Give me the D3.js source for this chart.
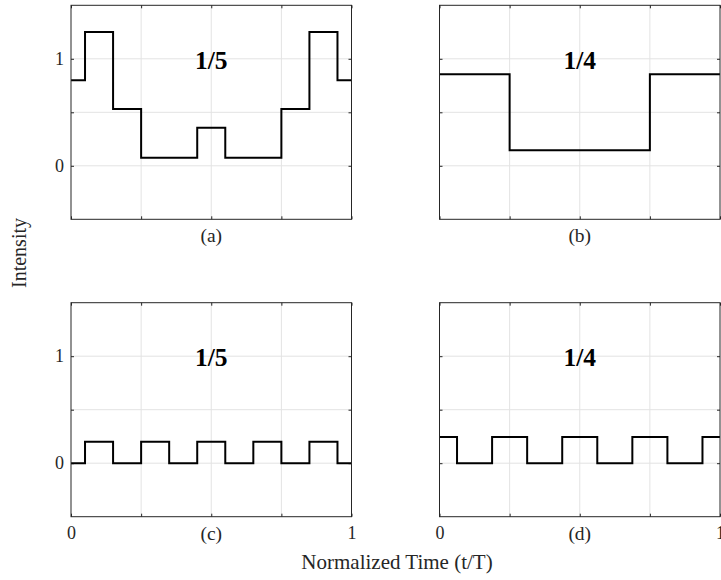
<!DOCTYPE html>
<html>
<head>
<meta charset="utf-8">
<script src="https://cdn.jsdelivr.net/npm/d3@7"></script>
<style>
  body { margin: 0; background: #fff; }
  svg text { font-family: "Liberation Serif", "Times New Roman", Times, serif; }
  .grid line { stroke: #e3e3e3; stroke-width: 1; }
  .frame { fill: none; stroke: #262626; stroke-width: 1; }
  .tick line { stroke: #262626; }
</style>
</head>
<body>
<script>
// step signals: breakpoints (t/T) and the level held on each interval
const breaksA = [0, 0.05, 0.15, 0.25, 0.45, 0.55, 0.75, 0.85, 0.95, 1];
const levelsA = [0.8, 1.25, 0.53, 0.075, 0.355, 0.075, 0.53, 1.25, 0.8];

const breaksB = [0, 0.25, 0.75, 1];
const levelsB = [0.855, 0.145, 0.855];

const breaksC = [0, 0.05, 0.15, 0.25, 0.35, 0.45, 0.55, 0.65, 0.75, 0.85, 0.95, 1];
const levelsC = [0, 0.2, 0, 0.2, 0, 0.2, 0, 0.2, 0, 0.2, 0];

const breaksD = [0, 0.0625, 0.1875, 0.3125, 0.4375, 0.5625, 0.6875, 0.8125, 0.9375, 1];
const levelsD = [0.245, 0, 0.245, 0, 0.245, 0, 0.245, 0, 0.245];

const ratios = ["1/5", "1/4", "1/5", "1/4"];
const letters = ["(a)", "(b)", "(c)", "(d)"];
const xTicks = [0, 0.25, 0.5, 0.75, 1];
const yTicks = [0, 0.5, 1];

const width = 721, height = 580;
const pw = 280.5, ph = 214;
const lefts = [71, 439.5], tops = [5.3, 302.7];
const serif = "'Liberation Serif', 'Times New Roman', Times, serif";

const svg = d3.select("body").append("svg")
    .attr("width", width)
    .attr("height", height)
    .attr("font-family", serif);

const panels = [
  {b: breaksA, l: levelsA, col: 0, row: 0},
  {b: breaksB, l: levelsB, col: 1, row: 0},
  {b: breaksC, l: levelsC, col: 0, row: 1},
  {b: breaksD, l: levelsD, col: 1, row: 1}
];

const x = d3.scaleLinear().domain([0, 1]).range([0, pw]);
const y = d3.scaleLinear().domain([-0.5, 1.5]).range([ph, 0]);

const line = d3.line()
    .x(d => x(d[0]))
    .y(d => y(d[1]))
    .curve(d3.curveStepAfter);

panels.forEach((p, i) => {
  const g = svg.append("g")
      .attr("transform", `translate(${lefts[p.col]}, ${tops[p.row]})`);

  // grid
  const grid = g.append("g").attr("class", "grid");
  grid.selectAll(".gx").data(xTicks.slice(1, -1)).enter().append("line")
      .attr("x1", d => x(d)).attr("x2", d => x(d))
      .attr("y1", 0).attr("y2", ph);
  grid.selectAll(".gy").data(yTicks).enter().append("line")
      .attr("y1", d => y(d)).attr("y2", d => y(d))
      .attr("x1", 0).attr("x2", pw);

  // inward ticks on all four sides (box on)
  const showX = p.row === 1;
  const showY = p.col === 0;
  g.append("g").attr("transform", `translate(0, ${ph})`)
      .call(d3.axisBottom(x).tickValues(xTicks).tickSizeInner(-3).tickSizeOuter(0)
        .tickFormat(d => showX && (d === 0 || d === 1) ? d : ""))
      .call(a => a.attr("font-family", serif).select(".domain").remove())
      .call(a => a.selectAll("text").attr("font-size", 18).attr("fill", "#262626")
        .attr("dy", "1.07em"));
  g.append("g")
      .call(d3.axisTop(x).tickValues(xTicks).tickSizeInner(-3).tickSizeOuter(0).tickFormat(""))
      .call(a => a.select(".domain").remove());
  g.append("g")
      .call(d3.axisLeft(y).tickValues(yTicks).tickSizeInner(-3).tickSizeOuter(0)
        .tickFormat(d => showY && (d === 0 || d === 1) ? d : ""))
      .call(a => a.attr("font-family", serif).select(".domain").remove())
      .call(a => a.selectAll("text").attr("font-size", 18).attr("fill", "#262626")
        .attr("x", -7));
  g.append("g").attr("transform", `translate(${pw}, 0)`)
      .call(d3.axisRight(y).tickValues(yTicks).tickSizeInner(-3).tickSizeOuter(0).tickFormat(""))
      .call(a => a.select(".domain").remove());

  // signal
  const pts = p.b.map((t, k) => [t, p.l[Math.min(k, p.l.length - 1)]]);
  g.append("path")
      .datum(pts)
      .attr("fill", "none")
      .attr("stroke", "#000")
      .attr("stroke-width", 2)
      .attr("d", line);

  g.append("rect").attr("class", "frame")
      .attr("width", pw).attr("height", ph);

  g.append("text")
      .attr("x", x(0.5))
      .attr("y", y(0.905))
      .attr("text-anchor", "middle")
      .attr("font-weight", "bold")
      .attr("font-size", 25.5)
      .text(ratios[i]);

  g.append("text")
      .attr("x", x(0.5))
      .attr("y", ph + 23)
      .attr("text-anchor", "middle")
      .attr("font-size", 19.5)
      .attr("fill", "#262626")
      .text(letters[i]);
});

svg.append("text")
    .attr("transform", `translate(26, 253) rotate(-90)`)
    .attr("text-anchor", "middle")
    .attr("font-size", 20)
    .attr("fill", "#262626")
    .text("Intensity");

svg.append("text")
    .attr("x", 397)
    .attr("y", 569)
    .attr("text-anchor", "middle")
    .attr("font-size", 21)
    .attr("fill", "#262626")
    .text("Normalized Time (t/T)");
</script>
</body>
</html>
